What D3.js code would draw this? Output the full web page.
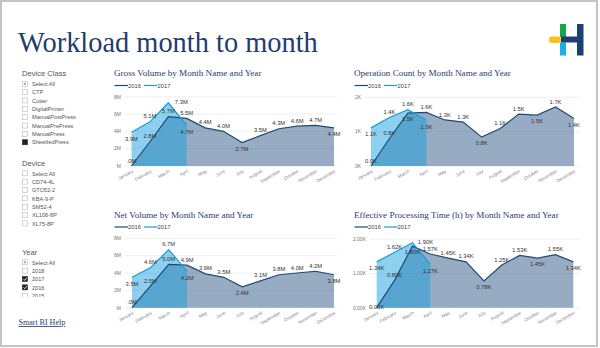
<!DOCTYPE html>
<html>
<head>
<meta charset="utf-8">
<script src="https://cdn.jsdelivr.net/npm/d3@7"></script>
<style>
  body { margin: 0; background: #fff; }
  svg { display: block; }
</style>
</head>
<body>
<div id="chart"></div>
<script>
// ---- data ----
var months = ["January", "February", "March", "April", "May", "June", "July",
  "August", "September", "October", "November", "December"];
var years = ["2016", "2017"];

var grossVol2016 = [0, 2.8, 5.7, 5.5, 4.4, 4.0, 2.7, 3.5, 4.3, 4.6, 4.7, 4.4];
var grossVol2017 = [3.9, 5.1, 7.3, 4.7];
var opCount2016 = [0, 0.8, 1.54, 1.56, 1.34, 1.28, 0.84, 1.09, 1.51, 1.48, 1.72, 1.38];
var opCount2017 = [1.11, 1.41, 1.64, 1.33];
var netVol2016 = [0, 2.5, 5.0, 4.9, 3.9, 3.5, 2.4, 3.1, 3.8, 4.0, 4.2, 3.8];
var netVol2017 = [3.5, 4.6, 6.7, 4.2];
var effTime2016 = [0, 0.80, 1.80, 1.57, 1.45, 1.34, 0.78, 1.25, 1.53, 1.45, 1.55, 1.34];
var effTime2017 = [1.34, 1.62, 1.90, 1.27];

var volTicks = [0, 2, 4, 6, 8];
var countTicks = [0, 1, 2];
var timeTicks = [0, 1, 2];

var deviceClasses = ["Select All", "CTP", "Cutter", "DigitalPrinter", "ManualPostPress",
  "ManualPrePress", "ManualPress", "SheetfedPress"];
var devices = ["Select All", "CD74-4L", "GTO52-2", "KBA-9-P", "SM52-4", "XL106-8P", "XL75-8P"];
var yearFilter = ["Select All", "2018", "2017", "2016", "2015"];

// slicer states: p = partial, f = filled, c = checked, "" = empty
var deviceClassState = ["p", "", "", "", "", "", "", "f"];
var deviceState = ["", "", "", "", "", "", ""];
var yearState = ["p", "", "c", "c", ""];

// where power bi put each data label: a = above, b = below, r = right, c = on point
var gvPlace16 = "aaaaaabaaaab", gvPlace17 = "barb";
var ocPlace16 = "aabaaabaabab", ocPlace17 = "baab";
var nvPlace16 = "aaaaaabaaaab", nvPlace17 = "baab";
var etPlace16 = "cabaaabaabab", etPlace17 = "barb";

var W = 600, H = 348;
var navy = "#1f3d6e";
var c16 = "#1d4a79", c17 = "#199fdd";

var fmtM = function(d) { return d === 0 ? ".0M" : d3.format(".1f")(d) + "M"; };
var fmtK1 = function(d) { return d3.format(".1f")(d) + "K"; };
var fmtK2 = function(d) { return d3.format(".2f")(d) + "K"; };

var panels = [
  { title: "Gross Volume by Month Name and Year", x: 105, top: 60,
    s16: grossVol2016, s17: grossVol2017, ticks: volTicks,
    axisFmt: function(d) { return d === 0 ? "M" : d + "M"; }, labFmt: fmtM,
    y0: 166, y1: 96.7, gl: 125, gr: 337, xl: 131.5, xr: 334,
    p16: gvPlace16, p17: gvPlace17 },
  { title: "Operation Count by Month Name and Year", x: 345, top: 60,
    s16: opCount2016, s17: opCount2017, ticks: countTicks,
    axisFmt: function(d) { return d + "K"; }, labFmt: fmtK1,
    y0: 166, y1: 97.3, gl: 365, gr: 580, xl: 371, xr: 574,
    p16: ocPlace16, p17: ocPlace17 },
  { title: "Net Volume by Month Name and Year", x: 105, top: 201.5,
    s16: netVol2016, s17: netVol2017, ticks: volTicks,
    axisFmt: function(d) { return d === 0 ? "M" : d + "M"; }, labFmt: fmtM,
    y0: 307.7, y1: 238.3, gl: 125, gr: 337, xl: 132, xr: 334,
    p16: nvPlace16, p17: nvPlace17 },
  { title: "Effective Processing Time (h) by Month Name and Year", x: 345, top: 201.5,
    s16: effTime2016, s17: effTime2017, ticks: timeTicks,
    axisFmt: function(d) { return d3.format(".2f")(d) + "K"; }, labFmt: fmtK2,
    y0: 307.7, y1: 239.3, gl: 370, gr: 580, xl: 376.7, xr: 573.3,
    p16: etPlace16, p17: etPlace17 }
];

var svg = d3.select("#chart").append("svg")
  .attr("width", W)
  .attr("height", H)
  .style("font-family", "Arial, 'Liberation Sans', sans-serif");

svg.append("rect")
  .attr("x", 1).attr("y", 1)
  .attr("width", 596).attr("height", 345)
  .attr("fill", "#fff")
  .attr("stroke", "#c4c4c4")
  .attr("stroke-width", 2);

// title
svg.append("text")
  .attr("x", 18).attr("y", 52)
  .attr("fill", navy)
  .style("font-family", "'Liberation Serif', 'DejaVu Serif', serif")
  .style("font-size", "28.4px")
  .text("Workload month to month");

// logo
var logo = svg.append("g");
logo.append("rect").attr("x", 560).attr("y", 24).attr("width", 6).attr("height", 13).attr("fill", "#12a84b");
logo.append("rect").attr("x", 549).attr("y", 36.5).attr("width", 12).attr("height", 6.5).attr("rx", 3).attr("fill", "#fbc11b");
logo.append("rect").attr("x", 560).attr("y", 42.5).attr("width", 6).attr("height", 13).attr("fill", "#1aaeea");
logo.append("rect").attr("x", 561).attr("y", 36.5).attr("width", 17).attr("height", 6).attr("fill", "#1c3f74");
logo.append("rect").attr("x", 577).attr("y", 24).attr("width", 6.5).attr("height", 31.5).attr("fill", "#1c3f74");

// ---- slicers ----
function slicer(label, items, state, y, clipBottom) {
  var g = svg.append("g");
  g.append("text")
    .attr("x", 22).attr("y", y)
    .attr("fill", "#555")
    .style("font-size", "7.6px")
    .text(label);

  var list = g.append("g");
  if (clipBottom) {
    var id = "clip" + label.replace(/\s/g, "");
    svg.append("clipPath").attr("id", id)
      .append("rect").attr("x", 0).attr("y", y).attr("width", 100).attr("height", clipBottom - y);
    list.attr("clip-path", "url(#" + id + ")");
  }

  var row = list.selectAll("g").data(items).enter().append("g")
    .attr("transform", function(d, i) { return "translate(0," + (y + 8 + i * 8.35) + ")"; });

  row.append("rect")
    .attr("x", 22.5).attr("y", -2.7)
    .attr("width", 5).attr("height", 5)
    .attr("fill", function(d, i) { return state[i] === "f" || state[i] === "c" ? "#222" : "#fff"; })
    .attr("stroke", function(d, i) { return state[i] === "f" || state[i] === "c" ? "#222" : "#b8b8b8"; })
    .attr("stroke-width", 0.6);

  row.filter(function(d, i) { return state[i] === "p"; })
    .append("rect")
    .attr("x", 24).attr("y", -1.2).attr("width", 2).attr("height", 2)
    .attr("fill", "#aaa");

  row.filter(function(d, i) { return state[i] === "c"; })
    .append("path")
    .attr("d", "M23.6,-0.2 L24.8,1.2 L27,-1.6")
    .attr("fill", "none")
    .attr("stroke", "#fff")
    .attr("stroke-width", 0.8);

  row.append("text")
    .attr("x", 32).attr("y", 2)
    .attr("fill", "#555")
    .style("font-size", "5.6px")
    .text(function(d) { return d; });
}

slicer("Device Class", deviceClasses, deviceClassState, 76);
slicer("Device", devices, deviceState, 165.5);
slicer("Year", yearFilter, yearState, 254.5, 297);

svg.append("text")
  .attr("x", 18.5).attr("y", 325)
  .attr("fill", navy)
  .attr("text-decoration", "underline")
  .style("font-family", "'Liberation Serif', 'DejaVu Serif', serif")
  .style("font-size", "8px")
  .text("Smart BI Help");

// ---- the four area charts ----
panels.forEach(function(p) {
  var g = svg.append("g");

  g.append("text")
    .attr("x", p.x + 9).attr("y", p.top + 16)
    .attr("fill", navy)
    .style("font-family", "'Liberation Serif', 'DejaVu Serif', serif")
    .style("font-size", "9.1px")
    .text(p.title);

  // legend
  var lg = g.append("g").attr("transform", "translate(" + (p.x + 9.5) + "," + (p.top + 25.5) + ")");
  years.forEach(function(yr, i) {
    var ox = i * 29.5;
    lg.append("line")
      .attr("x1", ox).attr("x2", ox + 13.5)
      .attr("stroke", i === 0 ? c16 : c17)
      .attr("stroke-width", 1.2);
    lg.append("text")
      .attr("x", ox + 13.5).attr("y", 2)
      .attr("fill", "#444")
      .style("font-size", "5.8px")
      .text(yr);
  });

  var x = d3.scalePoint().domain(months).range([p.xl, p.xr]);
  var y = d3.scaleLinear().domain([0, d3.max(p.ticks)]).range([p.y0, p.y1]);

  // gridlines + y labels
  g.selectAll(".grid").data(p.ticks).enter().append("line")
    .attr("x1", p.gl).attr("x2", p.gr)
    .attr("y1", function(d) { return y(d); })
    .attr("y2", function(d) { return y(d); })
    .attr("stroke", "#ececec")
    .attr("stroke-width", 0.8);

  g.selectAll(".ylab").data(p.ticks).enter().append("text")
    .attr("x", p.gl - 4)
    .attr("y", function(d) { return y(d) + 1.8; })
    .attr("text-anchor", "end")
    .attr("fill", "#777")
    .style("font-size", "5px")
    .text(p.axisFmt);

  var d16 = p.s16.map(function(v, i) { return { m: months[i], v: v }; });
  var d17 = p.s17.map(function(v, i) { return { m: months[i], v: v }; });

  var area = d3.area()
    .x(function(d) { return x(d.m); })
    .y0(y(0))
    .y1(function(d) { return y(d.v); });
  var line = d3.line()
    .x(function(d) { return x(d.m); })
    .y(function(d) { return y(d.v); });

  g.append("path").datum(d16).attr("d", area)
    .attr("fill", c16).attr("fill-opacity", 0.46);
  g.append("path").datum(d17).attr("d", area)
    .attr("fill", c17).attr("fill-opacity", 0.5);
  g.append("path").datum(d16).attr("d", line)
    .attr("fill", "none").attr("stroke", c16).attr("stroke-width", 1.2);
  g.append("path").datum(d17).attr("d", line)
    .attr("fill", "none").attr("stroke", c17).attr("stroke-width", 1.2);

  // x labels, slanted
  g.selectAll(".xlab").data(months).enter().append("text")
    .attr("transform", function(d) { return "translate(" + (x(d) + 2) + "," + (p.y0 + 6) + ") rotate(-30)"; })
    .attr("text-anchor", "end")
    .attr("fill", "#888")
    .style("font-size", "4.6px")
    .text(function(d) { return d; });

  // data labels
  function labels(data, place) {
    g.selectAll(null).data(data).enter().append("text")
      .attr("x", function(d, i) { return x(d.m) + (place[i] === "r" ? 13 : 0); })
      .attr("y", function(d, i) {
        var c = place[i];
        var off = c === "a" ? -5.5 : c === "b" ? 6.2 : c === "r" ? -0.5 : -1;
        return y(d.v) + off + 2.1;
      })
      .attr("text-anchor", "middle")
      .attr("fill", "#333")
      .style("font-size", "5.8px")
      .text(function(d) { return p.labFmt(d.v); });
  }
  labels(d16, p.p16);
  labels(d17, p.p17);
});
</script>
</body>
</html>
